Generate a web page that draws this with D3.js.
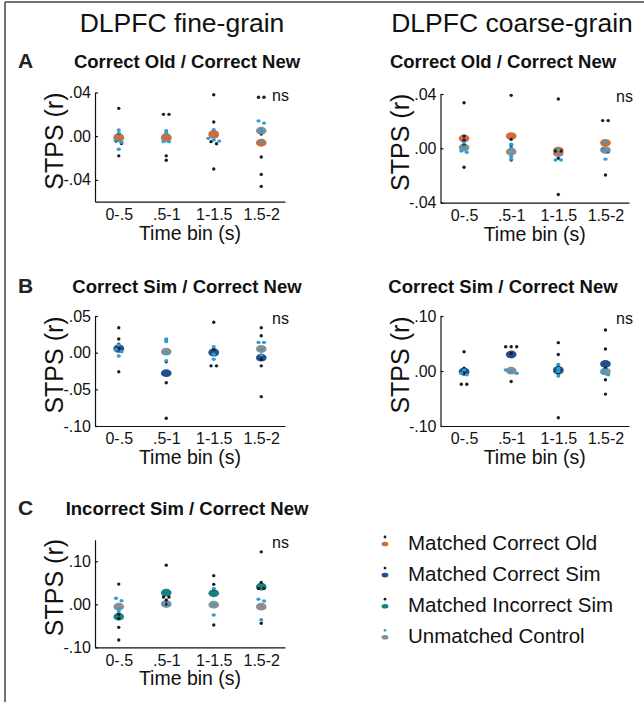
<!DOCTYPE html>
<html>
<head>
<meta charset="utf-8">
<script src="https://cdn.jsdelivr.net/npm/d3@7"></script>
<style>
  html, body { margin: 0; padding: 0; background: #fff; }
  svg { display: block; }
</style>
</head>
<body>
<div id="viz"></div>
<script>
// time bins shared by every panel
const bins = ["0-.5", ".5-1", "1-1.5", "1.5-2"];

// A, fine-grain: Correct Old / Correct New
const aFineMatched = [-0.001, -0.001, 0.002, -0.006];
const aFineControl = [-0.002, -0.002, 0.001, 0.005];
const aFineMatchedDots = [
  [0.0255, 0.0026, -0.0044, -0.0066, -0.018],
  [0.020, 0.020, 0.003, -0.018, -0.022],
  [0.038, 0.013, -0.005, -0.007, -0.030],
  [0.0356, 0.0356, 0.002, -0.019, -0.035, -0.046]
];
const aFineControlDots = [
  [0.0057, 0.003, -0.0035, -0.0056, -0.012],
  [0.005, 0.0025, -0.005, -0.005],
  [0.006, -0.002, -0.0035, -0.0045],
  [0.014, 0.012, 0.006, 0.003, -0.006]
];

// A, coarse-grain
const aCoarseMatched = [0.0073, 0.009, -0.0017, 0.004];
const aCoarseControl = [0.0005, -0.0025, -0.0037, -0.0013];
const aCoarseMatchedDots = [
  [0.0336, 0.009, 0.006, 0.0024, -0.014],
  [0.039, 0.0066, 0.002, -0.0087],
  [0.0363, -0.002, -0.002, -0.0074, -0.034],
  [0.0204, 0.0204, -0.0008, -0.0025, -0.0197]
];
const aCoarseControlDots = [
  [0.004, 0.001, -0.002, -0.003],
  [0.003, 0.0, -0.006, -0.008],
  [-0.0013, -0.0086, -0.0086],
  [0.005, -0.001, -0.002, -0.008]
];

// B, fine-grain: Correct Sim / Correct New
const bFineMatched = [0.0059, -0.028, 0.0, -0.0068];
const bFineControl = [0.0045, 0.0014, 0.001, 0.005];
const bFineMatchedDots = [
  [0.034, 0.0186, 0.0114, 0.006, -0.026],
  [0.0173, -0.0123, -0.041, -0.0895],
  [0.0414, 0.0045, -0.018, -0.018],
  [0.034, 0.023, -0.009, -0.018, -0.060]
];
const bFineControlDots = [
  [0.0105, 0.0045, 0.0014, -0.0045],
  [0.0186, 0.015, 0.0, -0.011],
  [0.008, -0.002, -0.009],
  [0.014, 0.014, 0.0036, -0.003]
];

// B, coarse-grain
const bCoarseMatched = [-0.001, 0.030, 0.002, 0.0127];
const bCoarseControl = [-0.002, 0.0006, 0.0, -0.001];
const bCoarseMatchedDots = [
  [0.035, 0.005, -0.004, -0.024, -0.024],
  [0.044, 0.044, 0.044, 0.032, -0.019],
  [0.0515, 0.030, 0.0097, -0.004, -0.085],
  [0.0745, 0.040, 0.005, -0.016, -0.042]
];
const bCoarseControlDots = [
  [0.002, -0.004, -0.007],
  [0.002, -0.001, -0.004],
  [0.012, 0.005, -0.001, -0.009],
  [0.002, -0.003, -0.007]
];

// C, fine-grain: Incorrect Sim / Correct New
const cFineMatched = [-0.0288, 0.027, 0.0255, 0.041];
const cFineControl = [-0.0055, 0.0007, -0.0008, -0.0055];
const cFineMatchedDots = [
  [0.047, -0.023, -0.033, -0.0536, -0.083],
  [0.091, 0.017, 0.017, 0.010, 0.0],
  [0.0666, 0.0464, 0.0356, -0.048],
  [0.122, 0.051, 0.037, 0.037, -0.044]
];
const cFineControlDots = [
  [0.014, 0.0084, -0.011, -0.017],
  [0.002, -0.002],
  [0.037, -0.0008, -0.025],
  [0.012, 0.0076, -0.036]
];

// y ticks per panel
const aFineTicks = [0.04, 0, -0.04];
const aFineTickLabels = [".04", ".00", "-.04"];
const aCoarseTicks = [0.04, 0, -0.04];
const aCoarseTickLabels = [".04", ".00", "-.04"];
const bFineTicks = [0.05, 0, -0.05, -0.10];
const bFineTickLabels = [".05", ".00", "-.05", "-.10"];
const bCoarseTicks = [0.10, 0, -0.10];
const bCoarseTickLabels = [".10", ".00", "-.10"];
const cFineTicks = [0.10, 0, -0.10];
const cFineTickLabels = [".10", ".00", "-.10"];

const legendLabels = ["Matched Correct Old", "Matched Correct Sim", "Matched Incorrect Sim", "Unmatched Control"];

const FONT = "'Liberation Sans', Arial, Helvetica, sans-serif";
const ORANGE = "#cf6c3a", DBLUE = "#1d4f91", TEAL = "#17817d",
      GRAY = "#8d8d8d", CYAN = "#2ea0d3", BLACK = "#1c1c1c";

const svg = d3.select("#viz").append("svg")
  .attr("width", 644).attr("height", 702)
  .style("font-family", FONT);

// frame lines at top and left
svg.append("line").attr("x1", 5).attr("y1", 2).attr("x2", 644).attr("y2", 2)
  .attr("stroke", "#444").attr("stroke-width", 1.5);
svg.append("line").attr("x1", 5).attr("y1", 2).attr("x2", 5).attr("y2", 702)
  .attr("stroke", "#444").attr("stroke-width", 1.5);

// column titles
svg.append("text").text("DLPFC fine-grain")
  .attr("x", 182).attr("y", 32).attr("text-anchor", "middle")
  .style("font-size", "26.5px").style("fill", "#111");
svg.append("text").text("DLPFC coarse-grain")
  .attr("x", 512).attr("y", 32).attr("text-anchor", "middle")
  .style("font-size", "26.5px").style("fill", "#111");

// row letters + subtitles
const rowHeads = [
  { letter: "A", y: 68, left: "Correct Old / Correct New", right: "Correct Old / Correct New" },
  { letter: "B", y: 293, left: "Correct Sim / Correct New", right: "Correct Sim / Correct New" },
  { letter: "C", y: 515, left: "Incorrect Sim / Correct New", right: null }
];
rowHeads.forEach(r => {
  svg.append("text").text(r.letter)
    .attr("x", 18).attr("y", r.y)
    .style("font-size", "21px").style("font-weight", "bold").style("fill", "#222");
  svg.append("text").text(r.left)
    .attr("x", 187).attr("y", r.y).attr("text-anchor", "middle")
    .style("font-size", "18.5px").style("font-weight", "bold").style("fill", "#111");
  if (r.right) {
    svg.append("text").text(r.right)
      .attr("x", 503).attr("y", r.y).attr("text-anchor", "middle")
      .style("font-size", "18.5px").style("font-weight", "bold").style("fill", "#111");
  }
});

const panels = [
  { x0: 95, x1: 285, y0: 92.5, y1: 201.7, dom: [-0.06, 0.04], ticks: aFineTicks, labels: aFineTickLabels,
    color: ORANGE, m: aFineMatched, c: aFineControl, md: aFineMatchedDots, cd: aFineControlDots },
  { x0: 440.5, x1: 629, y0: 94, y1: 202.6, dom: [-0.04, 0.04], ticks: aCoarseTicks, labels: aCoarseTickLabels,
    color: ORANGE, m: aCoarseMatched, c: aCoarseControl, md: aCoarseMatchedDots, cd: aCoarseControlDots },
  { x0: 95, x1: 285, y0: 316, y1: 426, dom: [-0.10, 0.05], ticks: bFineTicks, labels: bFineTickLabels,
    color: DBLUE, m: bFineMatched, c: bFineControl, md: bFineMatchedDots, cd: bFineControlDots },
  { x0: 440.5, x1: 629, y0: 316, y1: 426, dom: [-0.10, 0.10], ticks: bCoarseTicks, labels: bCoarseTickLabels,
    color: DBLUE, m: bCoarseMatched, c: bCoarseControl, md: bCoarseMatchedDots, cd: bCoarseControlDots },
  { x0: 95, x1: 285, y0: 539.8, y1: 647.3, dom: [-0.10, 0.15], ticks: cFineTicks, labels: cFineTickLabels,
    color: TEAL, m: cFineMatched, c: cFineControl, md: cFineMatchedDots, cd: cFineControlDots }
];

// spread dots that sit on the same height side by side
function spread(vals, y, cx) {
  const pts = vals.map(v => ({ v: v, py: y(v) })).sort((a, b) => a.py - b.py);
  const out = [];
  let group = [];
  const flush = () => {
    group.forEach((p, k) => out.push({ x: cx + (k - (group.length - 1) / 2) * 5.5, y: p.py }));
    group = [];
  };
  pts.forEach(p => {
    if (group.length && Math.abs(p.py - group[group.length - 1].py) > 2.5) flush();
    group.push(p);
  });
  flush();
  return out;
}

panels.forEach(p => {
  const x = d3.scalePoint().domain(bins).range([p.x0, p.x1]).padding(0.5);
  const y = d3.scaleLinear().domain(p.dom).range([p.y1, p.y0]);
  const g = svg.append("g");

  const yAx = g.append("g").attr("transform", `translate(${p.x0},0)`)
    .call(d3.axisLeft(y).tickValues(p.ticks).tickFormat((d, i) => p.labels[i])
      .tickSizeInner(-3).tickSizeOuter(0).tickPadding(4));
  const xAx = g.append("g").attr("transform", `translate(0,${p.y1})`)
    .call(d3.axisBottom(x).tickSize(0).tickPadding(7));
  [yAx, xAx].forEach(a => {
    a.attr("font-family", null).attr("font-size", null);
    a.selectAll("path, line").attr("stroke", "#111").attr("stroke-width", 1.2);
    a.selectAll("text").style("font-size", "16px").style("fill", "#111");
  });

  g.append("text").text("Time bin (s)")
    .attr("x", (p.x0 + p.x1) / 2).attr("y", p.y1 + 38).attr("text-anchor", "middle")
    .style("font-size", "19.5px").style("fill", "#111");
  g.append("text").text("STPS (r)")
    .attr("transform", `translate(${p.x0 - 32},${(p.y0 + p.y1) / 2 - 6}) rotate(-90)`)
    .attr("text-anchor", "middle")
    .style("font-size", "25px").style("fill", "#111");
  g.append("text").text("ns")
    .attr("x", p.x1 - 13).attr("y", p.y0 + 8)
    .style("font-size", "16px").style("fill", "#111");

  bins.forEach((b, i) => {
    const cx = x(b);
    g.append("ellipse").attr("cx", cx).attr("cy", y(p.c[i]))
      .attr("rx", 5.3).attr("ry", 3.9).attr("fill", GRAY);
    g.append("ellipse").attr("cx", cx).attr("cy", y(p.m[i]))
      .attr("rx", 5.3).attr("ry", 3.9).attr("fill", p.color);
    g.selectAll(null).data(spread(p.md[i], y, cx)).join("circle")
      .attr("cx", d => d.x).attr("cy", d => d.y).attr("r", 1.7).attr("fill", BLACK);
    g.selectAll(null).data(spread(p.cd[i], y, cx)).join("ellipse")
      .attr("cx", d => d.x).attr("cy", d => d.y).attr("rx", 2.1).attr("ry", 1.7).attr("fill", CYAN);
  });
});

// legend
const legendMean = [ORANGE, DBLUE, TEAL, GRAY];
const legendDot = [BLACK, BLACK, BLACK, CYAN];
legendLabels.forEach((lab, i) => {
  const by = 550 + i * 31.1;
  svg.append("circle").attr("cx", 385).attr("cy", by - 13).attr("r", 1.4).attr("fill", legendDot[i]);
  svg.append("ellipse").attr("cx", 385).attr("cy", by - 6).attr("rx", 3.4).attr("ry", 2.3).attr("fill", legendMean[i]);
  svg.append("text").text(lab).attr("x", 408).attr("y", by)
    .style("font-size", "20.5px").style("fill", "#111");
});
</script>
</body>
</html>
